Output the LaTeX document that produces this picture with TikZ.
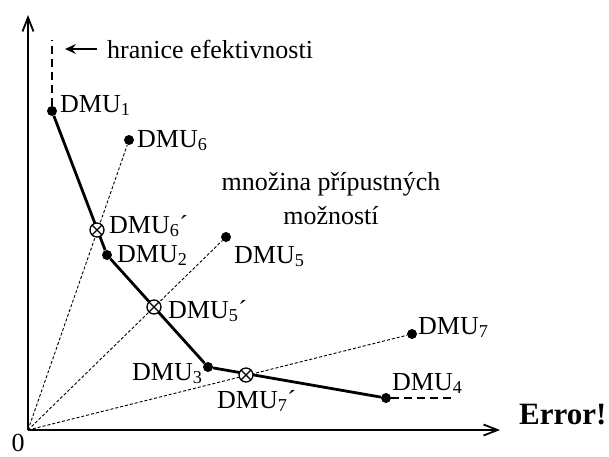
\documentclass[tikz,border=0pt]{standalone}
\usepackage{fontspec}
\setmainfont{Liberation Serif}
\usetikzlibrary{positioning,arrows.meta}

\begin{document}
\begin{tikzpicture}[x=1pt,y=-1pt,
  unit/.style={circle,fill=black,inner sep=0pt,minimum size=10pt},
  proj/.style={circle,draw,fill=white,line width=1.3pt,inner sep=0pt,minimum size=14pt,
    path picture={\draw[line width=1.3pt] (path picture bounding box.north west) -- (path picture bounding box.south east)
      (path picture bounding box.north east) -- (path picture bounding box.south west);}},
  axis/.style={line width=2.2pt,-{Straight Barb[length=14pt,width=11pt,line width=1.8pt]}},
  frontier/.style={line width=2.8pt},
  ext/.style={line width=2.8pt,dash pattern=on 8pt off 5pt},
  ray/.style={line width=0.9pt,dash pattern=on 3pt off 2pt},
  lab/.style={inner sep=0pt,font=\fontsize{26}{34}\selectfont},
]
\useasboundingbox (0,0) rectangle (609,456);

% === axes ===
\coordinate (o) at (28,430);
\coordinate (xend) at (500,430);
\coordinate (yend) at (28,15);
\draw[axis] (o) -- (xend);
\draw[axis] (o) -- (yend);
\node[lab,anchor=base] (zero) at (18,451) {0};
\node[lab,anchor=base west,font=\fontsize{31}{36}\selectfont\bfseries] (err) at (519,424) {Error!};

% === units ===
\node[unit] (d1) at (52,111) {};
\node[unit] (d2) at (107,255) {};
\node[unit] (d3) at (208,367) {};
\node[unit] (d4) at (386,398) {};
\node[unit] (d5) at (226,237) {};
\node[unit] (d6) at (129,140) {};
\node[unit] (d7) at (412,334) {};

% rays from the origin through the inefficient units
\draw[ray] (o) -- (d6);
\draw[ray] (o) -- (d5);
\draw[ray] (o) -- (d7);

% efficient frontier
\coordinate (top) at (52,40);
\coordinate (right) at (455,398);
\draw[ext] (d1) -- (top);
\draw[ext] (d4) -- (right);
\draw[frontier] (d1) -- (d2) -- (d3) -- (d4);

% projections onto the frontier
\node[proj] (d6p) at (97,230) {};
\node[proj] (d5p) at (154,307) {};
\node[proj] (d7p) at (246,375) {};

% === labels ===
\node[lab,anchor=base west] (l1) at (60,112) {DMU\textsubscript{1}};
\node[lab,anchor=base west] (l2) at (117,262) {DMU\textsubscript{2}};
\node[lab,anchor=base west] (l3) at (132,380) {DMU\textsubscript{3}};
\node[lab,anchor=base west] (l4) at (392,390) {DMU\textsubscript{4}};
\node[lab,anchor=base west] (l5) at (234,263) {DMU\textsubscript{5}};
\node[lab,anchor=base west] (l6) at (137,147) {DMU\textsubscript{6}};
\node[lab,anchor=base west] (l7) at (418,334) {DMU\textsubscript{7}};
\node[lab,anchor=base west] (l6p) at (109,233) {DMU\textsubscript{6}´};
\node[lab,anchor=base west] (l5p) at (168,318) {DMU\textsubscript{5}´};
\node[lab,anchor=base west] (l7p) at (217,408) {DMU\textsubscript{7}´};

\node[lab,anchor=base west] (hr) at (107,58) {hranice efektivnosti};
\coordinate (hrtip) at (65,49);
\draw[line width=2.4pt,-{Stealth[length=11pt,width=10pt,inset=4pt]}] (hr.west |- 0,49) ++(-10,0) -- (hrtip);

\node[lab,align=center] (set) at (331,199) {množina přípustných\\možností};

\end{tikzpicture}
\end{document}
